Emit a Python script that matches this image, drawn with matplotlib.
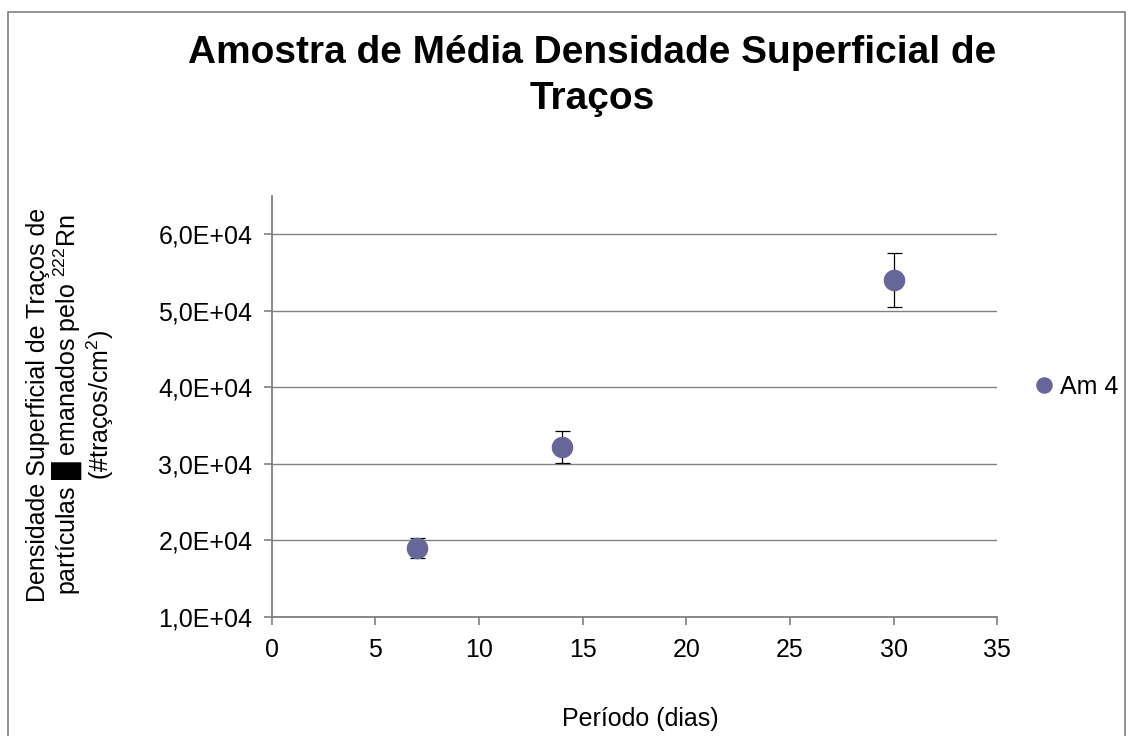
import matplotlib
matplotlib.use("Agg")
import matplotlib.pyplot as plt
from matplotlib.ticker import FuncFormatter, MultipleLocator
from matplotlib.patches import Rectangle

plt.rcParams['font.family'] = ['Liberation Sans', 'DejaVu Sans']
plt.rcParams['mathtext.fontset'] = 'custom'
plt.rcParams['mathtext.rm'] = 'Liberation Sans'
plt.rcParams['mathtext.it'] = 'Liberation Sans'

# data
periodo = [7, 14, 30]
densidade = [1.90e4, 3.22e4, 5.40e4]
erro = [1.3e3, 2.1e3, 3.55e3]
serie = 'Am 4'

titulo = 'Amostra de Média Densidade Superficial de\nTraços'
rotulo_y = ('Densidade Superficial de Traços de\n'
            'partículas █ emanados pelo $^{222}$Rn\n'
            '(#traços/cm$^{2}$)')
rotulo_x = 'Período (dias)'

W, H = 1134, 736
fig = plt.figure(figsize=(W / 100, H / 100), dpi=100)
ax = fig.add_axes([271.7 / W, 1 - 616.7 / H, (997.3 - 271.7) / W, (616.7 - 196) / H])

cor = '#666699'
cinza = '#808080'
fs = 18

ax.errorbar(periodo, densidade, yerr=erro, fmt='none', ecolor='black',
            elinewidth=0.9, capsize=5.4, capthick=0.9, zorder=3)
ax.plot(periodo, densidade, 'o', color=cor, markersize=14.5, label=serie, zorder=4)

ax.set_xlim(0, 35)
ax.set_ylim(1e4, 6.5e4)
ax.xaxis.set_major_locator(MultipleLocator(5))
ax.set_yticks([1e4, 2e4, 3e4, 4e4, 5e4, 6e4])
ax.yaxis.set_major_formatter(FuncFormatter(lambda v, p: f'{v:.1E}'.replace('.', ',')))

ax.grid(axis='y', color=cinza, linewidth=1.0)
ax.set_axisbelow(True)
for s in ['top', 'right']:
    ax.spines[s].set_visible(False)
for s in ['left', 'bottom']:
    ax.spines[s].set_color(cinza)
    ax.spines[s].set_linewidth(1.3)
ax.tick_params(axis='both', colors=cinza, length=6, width=1.2, labelsize=fs,
               labelcolor='black')
ax.tick_params(axis='y', pad=8)
ax.tick_params(axis='x', pad=9)

ax.legend(loc='center left', bbox_to_anchor=(1034 / W, 1 - 387 / H),
          bbox_transform=fig.transFigure, frameon=False, fontsize=fs,
          handlelength=0.8, handletextpad=0.25, borderpad=0, borderaxespad=0,
          markerscale=0.75)

fig.text(0.522, 1 - 76 / H, titulo, ha='center', va='center', fontsize=28,
         fontweight='bold', linespacing=1.33)
fig.text(71 / W, 1 - 405 / H, rotulo_y, rotation=90, ha='center', va='center',
         multialignment='center', fontsize=fs, linespacing=1.0)
fig.text(640 / W, 1 - 719 / H, rotulo_x, ha='center', va='center', fontsize=fs)

fig.patches.append(Rectangle((8 / W, -0.01), (1125 - 8) / W, 1 - 12 / H + 0.01,
                             transform=fig.transFigure, fill=False,
                             edgecolor=cinza, linewidth=1.2))

fig.savefig('out.png', dpi=100, facecolor='white')
